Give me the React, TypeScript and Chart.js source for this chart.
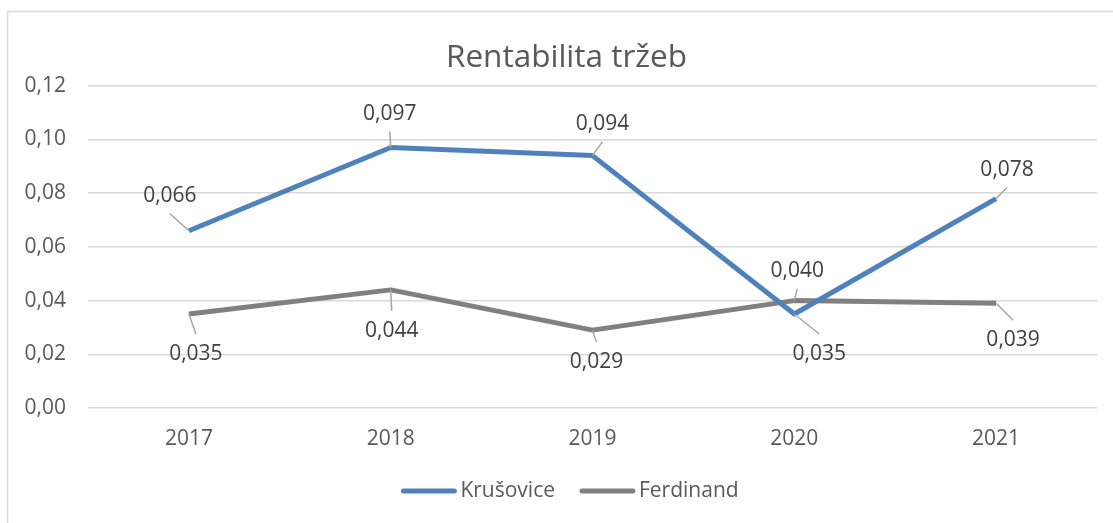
import React, { useEffect, useRef } from "react";
import { Chart, registerables } from "chart.js";

Chart.register(...registerables);

const TITLE = "Rentabilita tržeb";
const CATEGORIES = ["2017", "2018", "2019", "2020", "2021"];
const SERIES_NAMES = ["Krušovice", "Ferdinand"];
const KRUSOVICE = [0.066, 0.097, 0.094, 0.035, 0.078];
const FERDINAND = [0.035, 0.044, 0.029, 0.04, 0.039];
const Y_MIN = 0;
const Y_MAX = 0.12;
const Y_STEP = 0.02;

const COLORS = ["#4f81bd", "#808080"];
const TEXT = "#595959";
const LABEL_TEXT = "#404040";
const GRID = "#d9d9d9";
const FONT = "'Open Sans', 'Noto Sans', sans-serif";

// label placement relative to each point (style only)
const LABEL_OFFSETS = [
  [[-19, -35], [-1, -34], [10, -32], [25, 40], [11, -29]],
  [[7, 40], [1, 41], [4, 32], [3, -30], [17, 37]],
];

const fmt = (v: number, d: number) => v.toFixed(d).replace(".", ",");

const dataLabelsPlugin = {
  id: "dataLabelsLeader",
  afterDatasetsDraw(chart: any) {
    const ctx = chart.ctx;
    ctx.save();
    ctx.font = `21px ${FONT}`;
    ctx.textAlign = "center";
    ctx.textBaseline = "middle";
    chart.data.datasets.forEach((ds: any, di: number) => {
      const meta = chart.getDatasetMeta(di);
      meta.data.forEach((pt: any, i: number) => {
        const [dx, dy] = LABEL_OFFSETS[di][i];
        const cx = pt.x + dx;
        const cy = pt.y + dy;
        const ey = dy < 0 ? cy + 18 : cy - 20;
        ctx.strokeStyle = "#a6a6a6";
        ctx.lineWidth = 1.5;
        ctx.beginPath();
        ctx.moveTo(pt.x, pt.y);
        ctx.lineTo(cx, ey);
        ctx.stroke();
        ctx.fillStyle = LABEL_TEXT;
        ctx.fillText(fmt(ds.data[i], 3), cx, cy);
      });
    });
    ctx.restore();
  },
};

const framePlugin = {
  id: "frame",
  afterLayout(chart: any) {
    if (chart.titleBlock) chart.titleBlock.left += 36;
  },
  beforeDraw(chart: any) {
    const ctx = chart.ctx;
    ctx.save();
    ctx.fillStyle = "#ffffff";
    ctx.fillRect(0, 0, chart.width, chart.height);
    ctx.strokeStyle = GRID;
    ctx.lineWidth = 1.5;
    ctx.strokeRect(7.5, 11.5, chart.width + 50, chart.height + 50);
    ctx.restore();
  },
};

const legendPlugin = {
  id: "bottomLegend",
  afterDraw(chart: any) {
    const ctx = chart.ctx;
    ctx.save();
    ctx.font = `21px ${FONT}`;
    ctx.textBaseline = "middle";
    ctx.textAlign = "left";
    const lineLen = 55;
    const gap = 4;
    const itemGap = 25;
    const items = chart.data.datasets.map((ds: any) => ({
      label: ds.label,
      color: ds.borderColor,
      w: lineLen + gap + ctx.measureText(ds.label).width,
    }));
    const total = items.reduce((s: number, it: any) => s + it.w, 0) + itemGap * (items.length - 1);
    let x = 570 - total / 2;
    const y = 491;
    items.forEach((it: any) => {
      ctx.strokeStyle = it.color;
      ctx.lineWidth = 5;
      ctx.lineCap = "round";
      ctx.beginPath();
      ctx.moveTo(x + 2, y);
      ctx.lineTo(x + lineLen - 2, y);
      ctx.stroke();
      ctx.fillStyle = TEXT;
      ctx.fillText(it.label, x + lineLen + gap, y);
      x += it.w + itemGap;
    });
    ctx.restore();
  },
};

export default function App() {
  const ref = useRef<HTMLCanvasElement | null>(null);
  useEffect(() => {
    if (!ref.current) return;
    const chart = new Chart(ref.current, {
      type: "line",
      data: {
        labels: CATEGORIES,
        datasets: [
          {
            label: SERIES_NAMES[0],
            data: KRUSOVICE,
            borderColor: COLORS[0],
            backgroundColor: COLORS[0],
            borderWidth: 5,
            pointRadius: 0,
            tension: 0,
            borderJoinStyle: "round",
          },
          {
            label: SERIES_NAMES[1],
            data: FERDINAND,
            borderColor: COLORS[1],
            backgroundColor: COLORS[1],
            borderWidth: 5,
            pointRadius: 0,
            tension: 0,
            borderJoinStyle: "round",
          },
        ],
      },
      options: {
        responsive: false,
        animation: false,
        layout: { padding: { left: 0, right: 16, top: 0, bottom: 60 } },
        plugins: {
          legend: { display: false },
          tooltip: { enabled: false },
          title: {
            display: true,
            text: TITLE,
            color: TEXT,
            font: { family: FONT, size: 31.5, weight: "normal" },
            padding: { top: 39, bottom: 9 },
          },
        },
        scales: {
          x: {
            offset: true,
            grid: { display: false, drawTicks: false },
            border: { display: false },
            ticks: {
              color: TEXT,
              font: { family: FONT, size: 21 },
              padding: 18,
            },
            afterFit(scale: any) {
              scale.height = 55;
            },
          },
          y: {
            min: Y_MIN,
            max: Y_MAX,
            grid: { color: GRID, lineWidth: 1.5, drawTicks: false },
            border: { display: false },
            ticks: {
              stepSize: Y_STEP,
              color: TEXT,
              font: { family: FONT, size: 21 },
              padding: 22,
              callback: (v: any) => fmt(Number(v), 2),
            },
            afterFit(scale: any) {
              scale.width = 88;
            },
          },
        },
      },
      plugins: [framePlugin, dataLabelsPlugin, legendPlugin],
    });
    return () => chart.destroy();
  }, []);
  return (
    <div style={{ position: "fixed", left: 0, top: 0, width: 1113, height: 523, background: "#fff" }}>
      <canvas ref={ref} width={1113} height={523} style={{ display: "block" }} />
    </div>
  );
}
